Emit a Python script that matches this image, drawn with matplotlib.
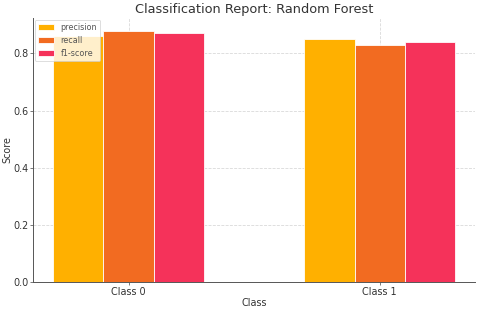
import matplotlib
matplotlib.use("Agg")
import matplotlib.pyplot as plt
import numpy as np

classes = ["Class 0", "Class 1"]
metrics = ["precision", "recall", "f1-score"]
precision = [0.86, 0.85]
recall = [0.88, 0.83]
f1_score = [0.87, 0.84]
colors = ["#FFB000", "#F26B21", "#F5325A"]

# drawn large, saved at low dpi so fonts and padding scale like the reference
DPI = 58
fig = plt.figure(figsize=(480 / DPI, 309 / DPI), dpi=DPI)
ax = fig.add_axes([0.069, 0.087, 0.921, 0.855])

x = np.arange(len(classes))
width = 0.2
for i, (vals, c, name) in enumerate(zip([precision, recall, f1_score], colors, metrics)):
    ax.bar(x + (i - 1) * width, vals, width, color=c, label=name,
           edgecolor="#ffffff", linewidth=1.0, zorder=2)

ax.set_xlim(-0.38, 1.38)
ax.set_xticks(x, classes)
ax.set_yticks([0.0, 0.2, 0.4, 0.6, 0.8])
ax.grid(True, linestyle="--", color="#d8d8d8", linewidth=1.0, zorder=0)
for s in ["top", "right"]:
    ax.spines[s].set_visible(False)
for s in ["left", "bottom"]:
    ax.spines[s].set_color("#555555")
    ax.spines[s].set_linewidth(1.2)
ax.tick_params(colors="#333333", labelsize=12, length=4, pad=2)
ax.set_xlabel("Class", fontsize=12, color="#333333", labelpad=1)
ax.set_ylabel("Score", fontsize=12, color="#333333", labelpad=1)
ax.set_title("Classification Report: Random Forest", fontsize=16, color="#333333")
leg = ax.legend(loc="upper left", fontsize=10, framealpha=0.8,
                handlelength=2, borderaxespad=0.2)
for t in leg.get_texts():
    t.set_color("#555555")

fig.savefig("out.png", dpi=DPI)
